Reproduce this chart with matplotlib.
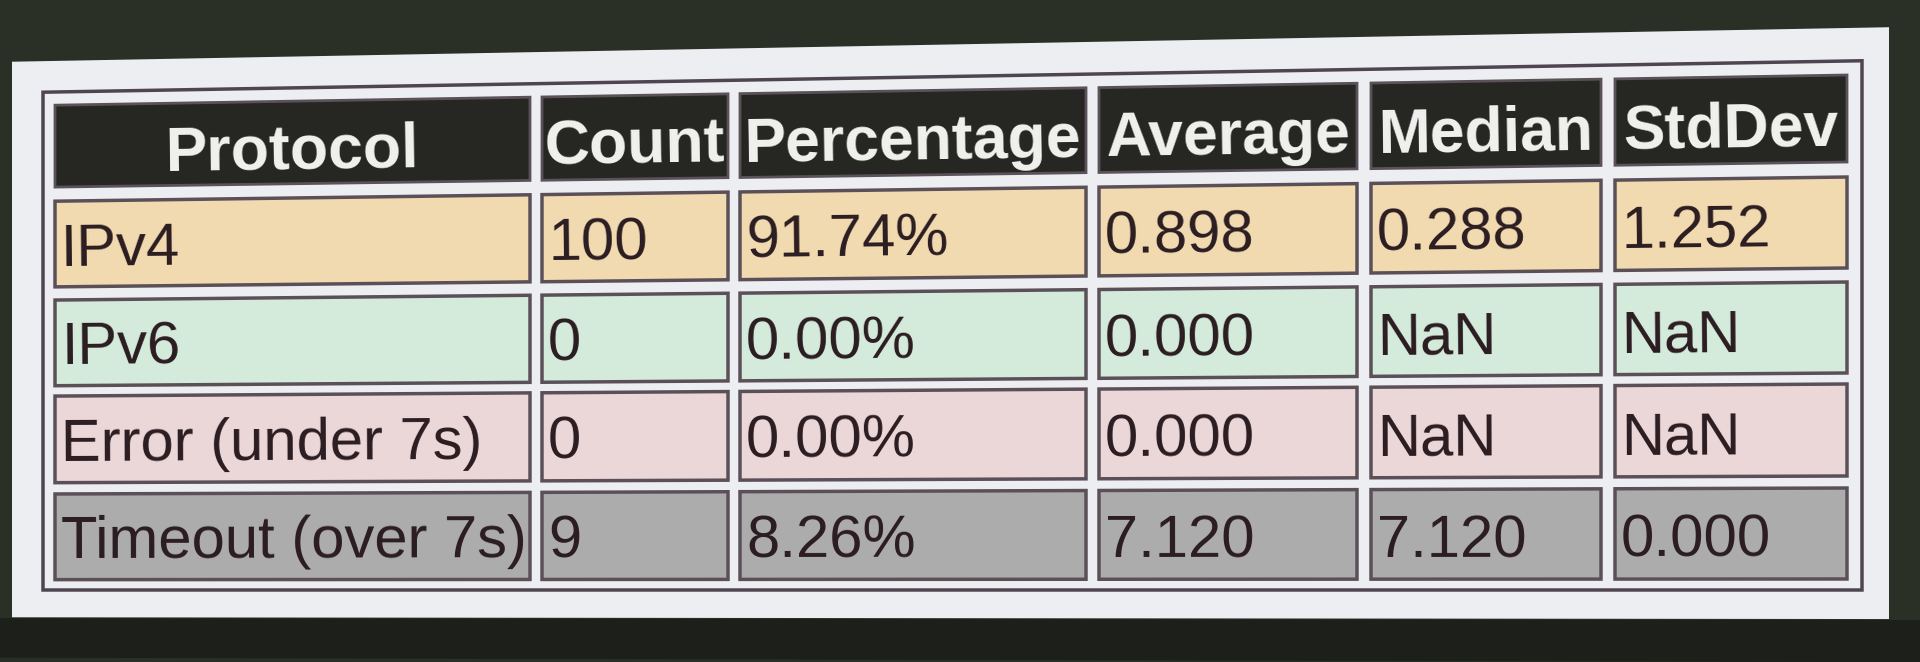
import math
import matplotlib
matplotlib.use("Agg")
import matplotlib.pyplot as plt
from matplotlib.patches import Polygon

# table content
headers = ["Protocol", "Count", "Percentage", "Average", "Median", "StdDev"]
protocols = ["IPv4", "IPv6", "Error (under 7s)", "Timeout (over 7s)"]
counts = [100, 0, 0, 9]
percentages = [91.74, 0.00, 0.00, 8.26]
averages = [0.898, 0.000, 0.000, 7.120]
medians = [0.288, float("nan"), float("nan"), 7.120]
stddevs = [1.252, float("nan"), float("nan"), 0.000]

row_colors = ["#f1dab0", "#d4eadb", "#ebd6d8", "#abacab"]
header_color = "#262622"


def fmt(v, nd=3):
    return "NaN" if math.isnan(v) else f"{v:.{nd}f}"


rows = []
for i in range(len(protocols)):
    rows.append([protocols[i], str(counts[i]), fmt(percentages[i], 2) + "%",
                 fmt(averages[i]), fmt(medians[i]), fmt(stddevs[i])])

# layout (pixels, photo straightened to its right side)
col_left = [55, 542, 740, 1099, 1371, 1615]
col_right = [530, 728, 1086, 1357, 1601, 1847]
row_top = [75, 177, 282, 384, 488]
row_bot = [162, 268, 373, 476, 579]

# the photo is taken slightly from the left: tilt grows toward the top-left
XL, XR, Y0, Y1, T = 55, 1847, 590, 61, 31


def warp(x, y):
    return x, y + T * (Y0 - y) / (Y0 - Y1) * (XR - x) / (XR - XL)


def quad(x0, y0, x1, y1, **kw):
    pts = [warp(x0, y0), warp(x1, y0), warp(x1, y1), warp(x0, y1)]
    return Polygon(pts, closed=True, **kw)


def slope_deg(y):
    return math.degrees(math.atan(T * (Y0 - y) / (Y0 - Y1) / (XR - XL)))


fig = plt.figure(figsize=(19.2, 6.62), dpi=100, facecolor="#2b3027")
ax = fig.add_axes([0, 0, 1, 1])
ax.set_xlim(0, 1920)
ax.set_ylim(662, 0)
ax.axis("off")

# dark strip under the screen
ax.add_patch(quad(0, 620, 1920, 662, facecolor="#1c1f1a", edgecolor="none"))

# white page
ax.add_patch(quad(12, 28, 1889, 619, facecolor="#edeef2", edgecolor="none"))
# table frame
ax.add_patch(quad(43, 61, 1862, 590, facecolor="none", edgecolor="#4e4550", lw=2.5))

font = "Liberation Sans"

for j, h in enumerate(headers):
    ax.add_patch(quad(col_left[j], row_top[0], col_right[j], row_bot[0],
                      facecolor=header_color, edgecolor="#5a5258", lw=2))
    cx = (col_left[j] + col_right[j]) / 2
    cy = (row_top[0] + row_bot[0]) / 2
    tx, ty = warp(cx, cy + 27)
    ax.text(tx, ty, h, color="#f2f2f0", fontsize=45, fontweight="bold",
            family=font, ha="center", va="baseline",
            rotation=slope_deg(cy), rotation_mode="anchor")

for i, r in enumerate(rows):
    top, bot = row_top[i + 1], row_bot[i + 1]
    for j, val in enumerate(r):
        ax.add_patch(quad(col_left[j], top, col_right[j], bot,
                          facecolor=row_colors[i], edgecolor="#5b5058", lw=2.5))
        cy = (top + bot) / 2
        tx, ty = warp(col_left[j] + 6, cy + 23)
        ax.text(tx, ty, val, color="#2a1c20", fontsize=43, family=font,
                ha="left", va="baseline",
                rotation=slope_deg(cy), rotation_mode="anchor")

fig.savefig("out.png", dpi=100, facecolor=fig.get_facecolor())
